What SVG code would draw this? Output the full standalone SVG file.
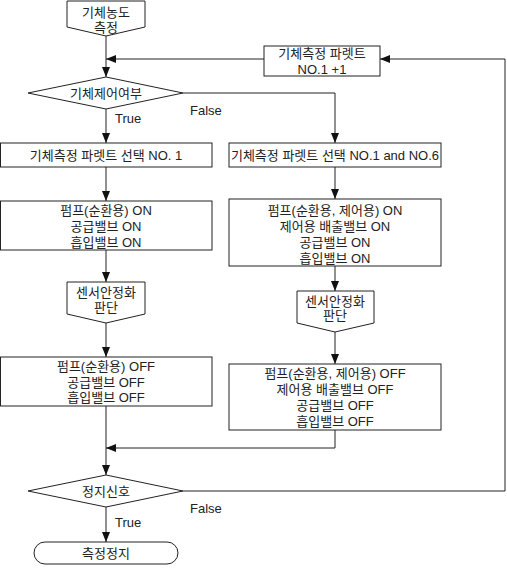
<svg xmlns="http://www.w3.org/2000/svg" width="507" height="569" viewBox="0 0 507 569">
<style>
.s{fill:#fff;stroke:#222;stroke-width:1}
.c{fill:none;stroke:#222;stroke-width:1}
text{font-family:"Liberation Sans","Noto Sans CJK KR",sans-serif;font-size:13px;fill:#222;text-anchor:middle;dominant-baseline:central}
.l{text-anchor:start}
</style>
<defs>
<marker id="a" markerUnits="userSpaceOnUse" markerWidth="10" markerHeight="8" refX="10" refY="4" orient="auto">
<path d="M0,0 L10,4 L0,8 z" fill="#111"/>
</marker>
</defs>
<rect width="507" height="569" fill="#fff"/>
<g id="connectors">
<path class="c" d="M106,36 V77" marker-end="url(#a)"/>
<path class="c" d="M264,59 H106" marker-end="url(#a)"/>
<path class="c" d="M106,109 V143" marker-end="url(#a)"/>
<path class="c" d="M183,93 H335 V143" marker-end="url(#a)"/>
<path class="c" d="M106,167 V201" marker-end="url(#a)"/>
<path class="c" d="M335,167 V199" marker-end="url(#a)"/>
<path class="c" d="M106,250 V282" marker-end="url(#a)"/>
<path class="c" d="M335,266 V291" marker-end="url(#a)"/>
<path class="c" d="M106,323 V357" marker-end="url(#a)"/>
<path class="c" d="M335,332 V364" marker-end="url(#a)"/>
<path class="c" d="M106,406 V475" marker-end="url(#a)"/>
<path class="c" d="M335,430 V448 H106" marker-end="url(#a)"/>
<path class="c" d="M106,507 V542" marker-end="url(#a)"/>
<path class="c" d="M183,491 H505 V59 H380" marker-end="url(#a)"/>
<text class="l" x="190" y="110">False</text>
<text class="l" x="115" y="118">True</text>
<text class="l" x="190" y="508">False</text>
<text class="l" x="115" y="522">True</text>
</g>
<g id="start">
<path class="s" d="M67,1 H145 V27 L106,36 L67,27 Z"/>
<text x="106" y="12">기체농도</text>
<text x="106" y="27">측정</text>
</g>
<g id="increment">
<rect class="s" x="264" y="46" width="116" height="30"/>
<text x="322" y="53">기체측정 파렛트</text>
<text x="322" y="69">NO.1 +1</text>
</g>
<g id="decision1">
<path class="s" d="M28,93 L106,77 L183,93 L106,109 Z"/>
<text x="106" y="93">기체제어여부</text>
</g>
<g id="selectL">
<rect class="s" x="0.5" y="143" width="211.5" height="24"/>
<text x="106" y="155">기체측정 파렛트 선택 NO. 1</text>
</g>
<g id="selectR">
<rect class="s" x="229" y="143" width="212" height="24"/>
<text x="335" y="155">기체측정 파렛트 선택 NO.1 and NO.6</text>
</g>
<g id="onL">
<rect class="s" x="0.5" y="201" width="211.5" height="49"/>
<text x="106" y="210">펌프(순환용) ON</text>
<text x="106" y="226">공급밸브 ON</text>
<text x="106" y="242">흡입밸브 ON</text>
</g>
<g id="onR">
<rect class="s" x="229" y="199" width="212" height="67"/>
<text x="335" y="210">펌프(순환용, 제어용) ON</text>
<text x="335" y="226">제어용 배출밸브 ON</text>
<text x="335" y="242">공급밸브 ON</text>
<text x="335" y="258">흡입밸브 ON</text>
</g>
<g id="sensorL">
<path class="s" d="M67,282 H145 V314 L106,323 L67,314 Z"/>
<text x="106" y="292">센서안정화</text>
<text x="106" y="307">판단</text>
</g>
<g id="sensorR">
<path class="s" d="M297,291 H374 V323 L335,332 L297,323 Z"/>
<text x="335" y="301">센서안정화</text>
<text x="335" y="315">판단</text>
</g>
<g id="offL">
<rect class="s" x="0.5" y="357" width="211.5" height="49"/>
<text x="106" y="366">펌프(순환용) OFF</text>
<text x="106" y="382">공급밸브 OFF</text>
<text x="106" y="397">흡입밸브 OFF</text>
</g>
<g id="offR">
<rect class="s" x="229" y="364" width="212" height="66"/>
<text x="335" y="373">펌프(순환용, 제어용) OFF</text>
<text x="335" y="389">제어용 배출밸브 OFF</text>
<text x="335" y="405">공급밸브 OFF</text>
<text x="335" y="421">흡입밸브 OFF</text>
</g>
<g id="decision2">
<path class="s" d="M28,491 L106,475 L183,491 L106,507 Z"/>
<text x="106" y="491">정지신호</text>
</g>
<g id="end">
<rect class="s" x="34" y="542" width="144" height="22" rx="11" ry="11"/>
<text x="106" y="553">측정정지</text>
</g>
</svg>
